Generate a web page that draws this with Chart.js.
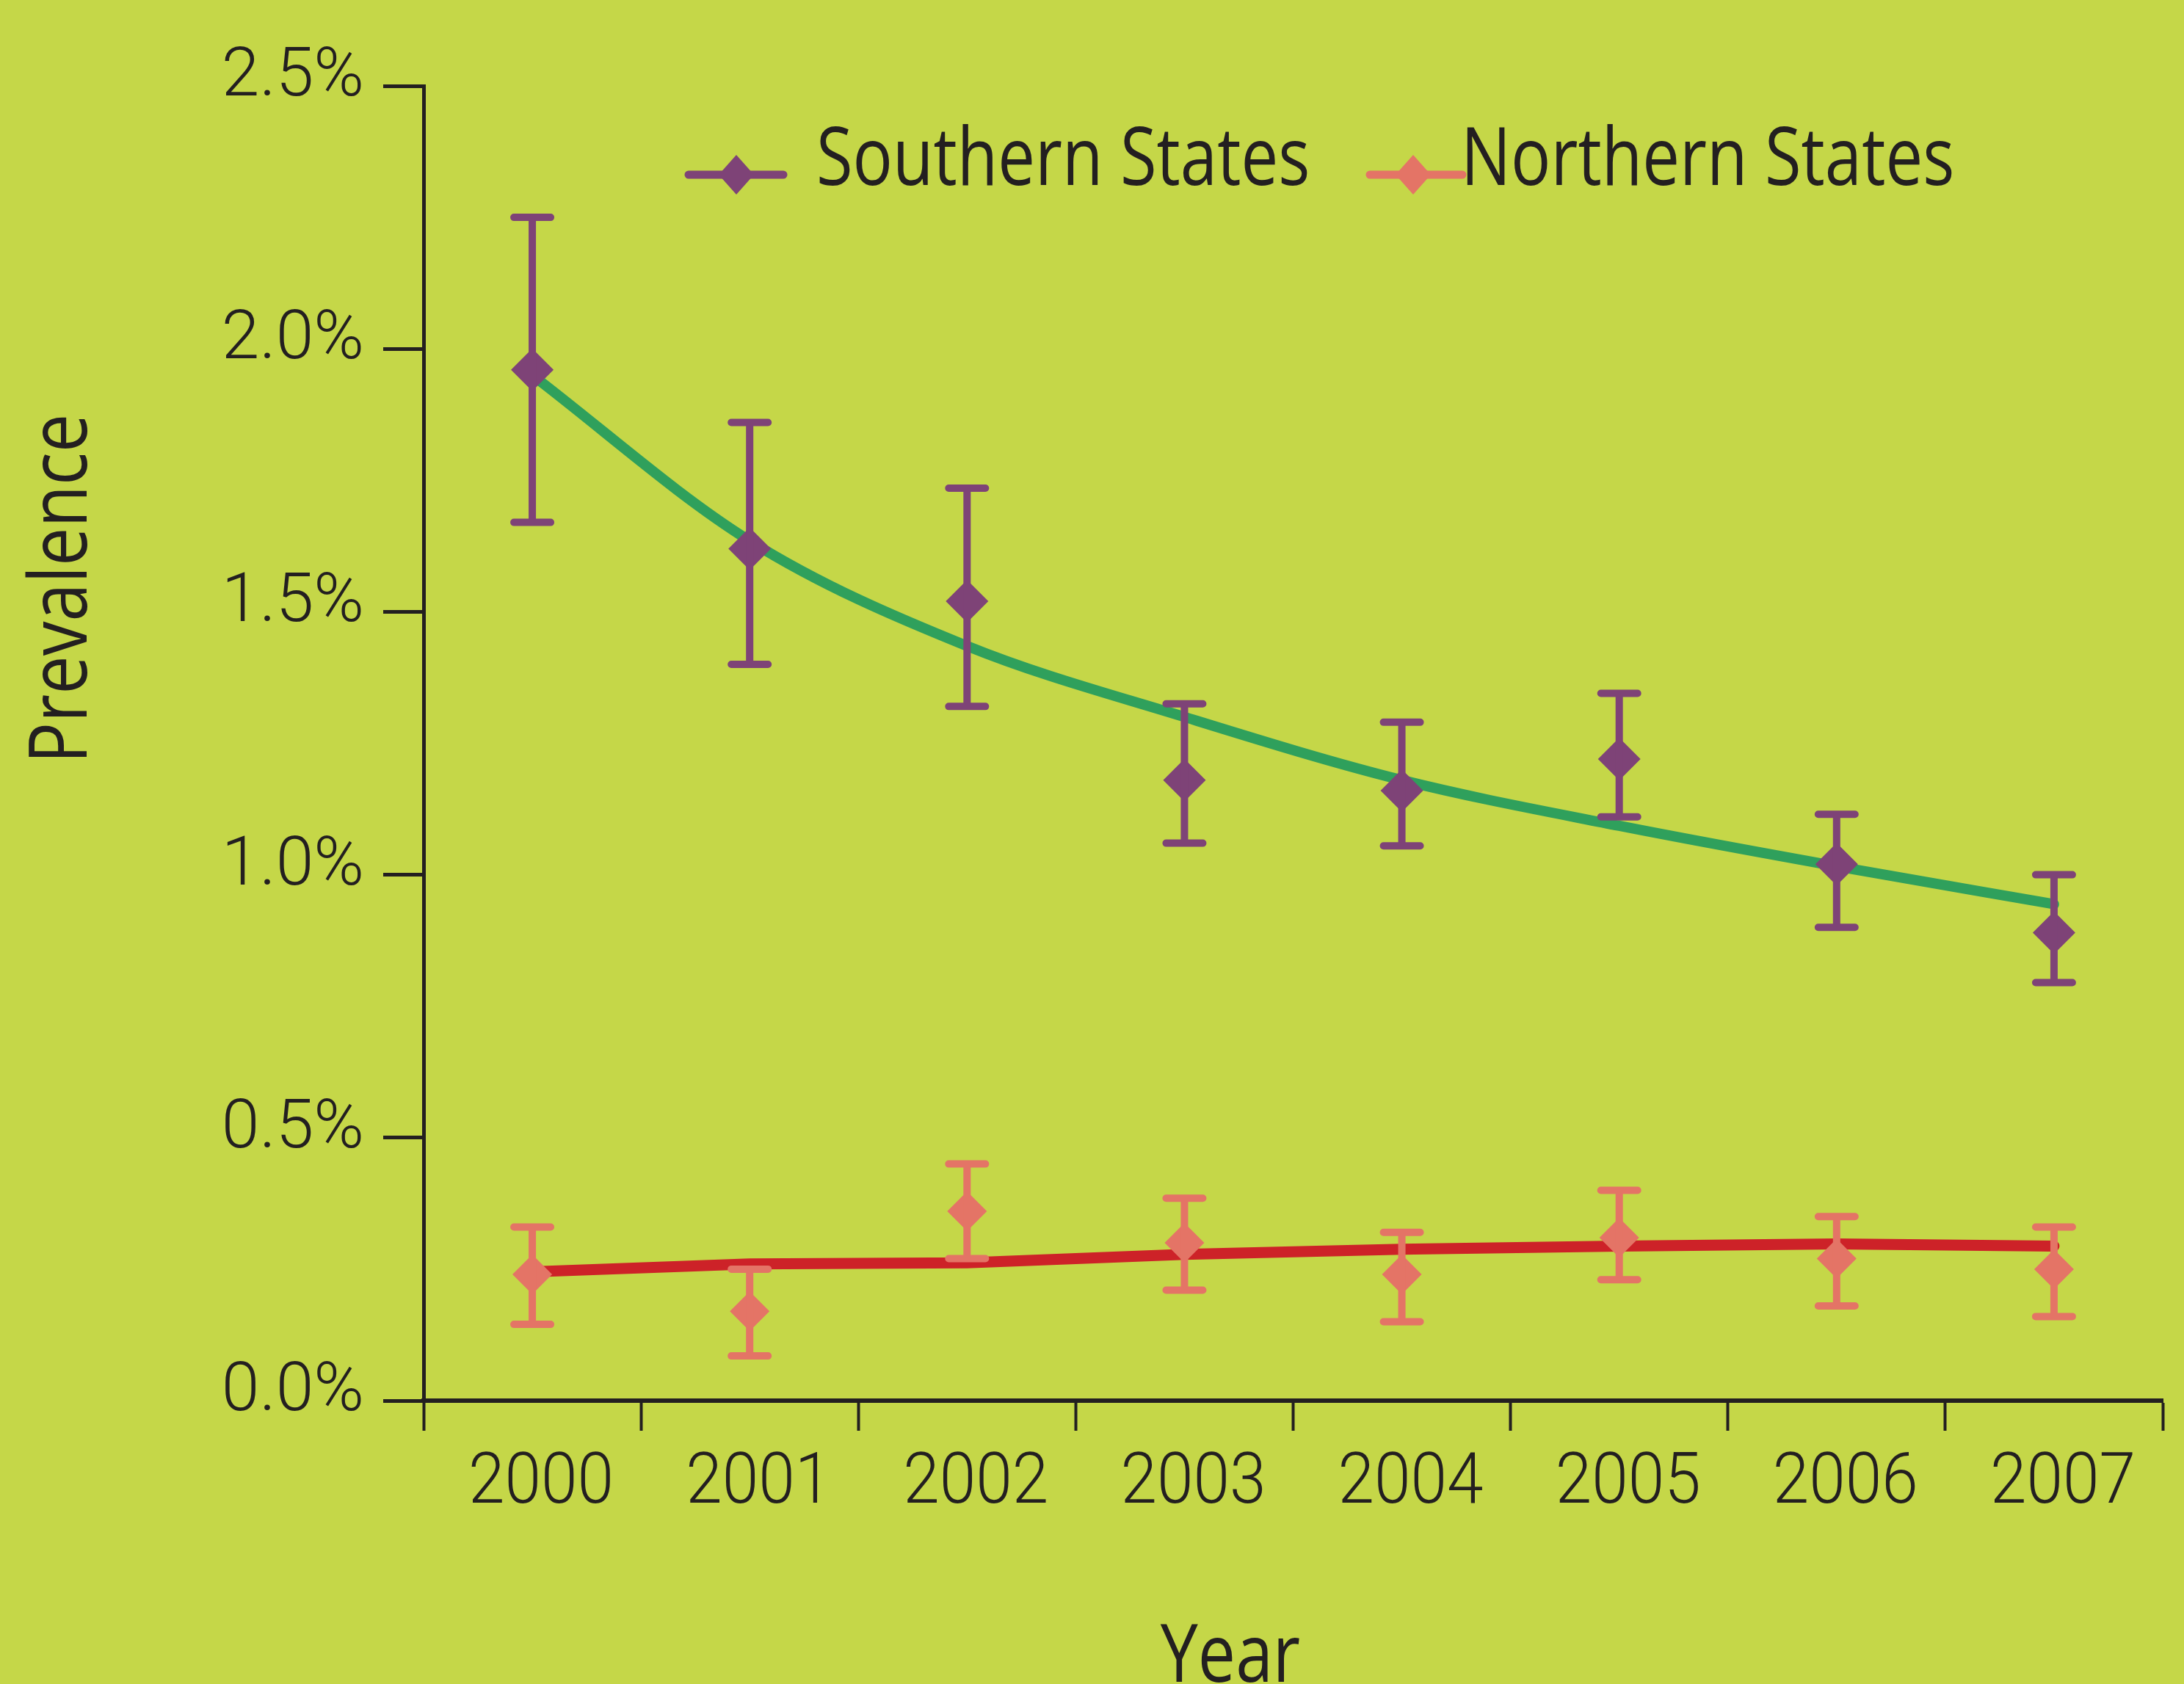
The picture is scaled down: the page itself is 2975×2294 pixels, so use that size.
<!DOCTYPE html>
<html>
<head>
<meta charset="utf-8">
<script src="https://cdn.jsdelivr.net/npm/chart.js@4.4.1/dist/chart.umd.min.js"></script>
<style>
  html, body { margin: 0; padding: 0; background: #c5d748; overflow: hidden; }
  #wrap { width: 2975px; height: 2294px; position: relative; }
</style>
</head>
<body>
<div id="wrap"><canvas id="chart"></canvas></div>
<script>
// data
const years = ['2000', '2001', '2002', '2003', '2004', '2005', '2006', '2007'];
const yTickLabels = ['0.0%', '0.5%', '1.0%', '1.5%', '2.0%', '2.5%'];

const southern      = [1.96, 1.62, 1.52, 1.18, 1.16, 1.22, 1.02, 0.89];
const southernHigh  = [2.25, 1.86, 1.735, 1.325, 1.29, 1.345, 1.115, 1.0];
const southernLow   = [1.67, 1.40, 1.32, 1.06, 1.055, 1.11, 0.90, 0.795];
const southernTrend = [1.95, 1.635, 1.435, 1.30, 1.18, 1.093, 1.016, 0.944];

const northern      = [0.24, 0.17, 0.36, 0.30, 0.24, 0.31, 0.27, 0.25];
const northernHigh  = [0.33, 0.25, 0.45, 0.385, 0.32, 0.40, 0.35, 0.33];
const northernLow   = [0.145, 0.085, 0.27, 0.21, 0.15, 0.23, 0.18, 0.16];
const northernTrend = [0.245, 0.26, 0.262, 0.278, 0.288, 0.294, 0.298, 0.294];

const TICK_FONT = "300 {s}px Roboto, 'Liberation Sans', sans-serif";
const TEXT_FONT = "{s}px 'Open Sans', 'Noto Sans', sans-serif";
const INK = '#231f20';
const PURPLE = '#7e4377';
const SALMON = '#e47466';

// text squeezed sideways, the original uses a condensed face
function squeezed(ctx, text, x, y, font, align, sx, rot) {
  ctx.save();
  ctx.translate(x, y);
  if (rot) ctx.rotate(rot);
  ctx.scale(sx, 1);
  ctx.font = font;
  ctx.textAlign = align;
  ctx.textBaseline = 'alphabetic';
  ctx.fillStyle = INK;
  ctx.fillText(text, 0, 0);
  ctx.restore();
}

// error bars, drawn through the y scale
const errorBars = {
  id: 'errorBars',
  afterDatasetsDraw(chart) {
    const ctx = chart.ctx;
    const y = chart.scales.y;
    chart.data.datasets.forEach((ds, i) => {
      if (!ds.errHigh) return;
      const meta = chart.getDatasetMeta(i);
      ctx.save();
      ctx.strokeStyle = ds.borderColor;
      ctx.lineWidth = 10;
      ctx.lineCap = 'round';
      meta.data.forEach((pt, j) => {
        const top = y.getPixelForValue(ds.errHigh[j]);
        const bot = y.getPixelForValue(ds.errLow[j]);
        ctx.beginPath();
        ctx.moveTo(pt.x, top); ctx.lineTo(pt.x, bot);
        ctx.moveTo(pt.x - 25, top); ctx.lineTo(pt.x + 25, top);
        ctx.moveTo(pt.x - 25, bot); ctx.lineTo(pt.x + 25, bot);
        ctx.stroke();
      });
      ctx.restore();
    });
  }
};

// tick labels, legend and axis titles
const decorations = {
  id: 'decorations',
  afterDraw(chart) {
    const ctx = chart.ctx;
    const xs = chart.scales.x;
    const ys = chart.scales.y;

    xs.ticks.forEach((t, i) => {
      squeezed(ctx, years[i], xs.getPixelForTick(i) + 12, 2047,
        TICK_FONT.replace('{s}', 97), 'center', 0.92);
    });
    ys.ticks.forEach((t, i) => {
      squeezed(ctx, yTickLabels[i], 496, ys.getPixelForTick(i) + 13,
        TICK_FONT.replace('{s}', 93), 'right', 1.0);
    });

    const titleFont = TEXT_FONT.replace('{s}', 110);
    squeezed(ctx, 'Prevalence', 118, 802, titleFont, 'center', 0.85, -Math.PI / 2);
    squeezed(ctx, 'Year', 1676, 2291, titleFont, 'center', 0.83);

    // legend: line with a diamond on it, then the name
    const items = [
      { ds: chart.data.datasets[0], x0: 938, x1: 1067, mx: 1003, tx: 1112 },
      { ds: chart.data.datasets[1], x0: 1866, x1: 1992, mx: 1925, tx: 1990 }
    ];
    items.forEach(it => {
      const c = it.ds.backgroundColor;
      ctx.save();
      ctx.strokeStyle = c;
      ctx.lineWidth = 11;
      ctx.lineCap = 'round';
      ctx.beginPath();
      ctx.moveTo(it.x0, 238); ctx.lineTo(it.x1, 238);
      ctx.stroke();
      ctx.fillStyle = c;
      ctx.beginPath();
      ctx.moveTo(it.mx, 238 - 27); ctx.lineTo(it.mx + 24, 238);
      ctx.lineTo(it.mx, 238 + 27); ctx.lineTo(it.mx - 24, 238);
      ctx.closePath();
      ctx.fill();
      ctx.restore();
      squeezed(ctx, it.ds.label, it.tx, 252, TEXT_FONT.replace('{s}', 109), 'left', 0.83);
    });
  }
};

new Chart(document.getElementById('chart'), {
  type: 'line',
  data: {
    labels: years,
    datasets: [
      {
        label: 'Southern States',
        data: southern,
        errHigh: southernHigh,
        errLow: southernLow,
        showLine: false,
        pointStyle: 'rectRot',
        pointRadius: 29,
        backgroundColor: PURPLE,
        borderColor: PURPLE,
        borderWidth: 0,
        order: 1
      },
      {
        label: 'Northern States',
        data: northern,
        errHigh: northernHigh,
        errLow: northernLow,
        showLine: false,
        pointStyle: 'rectRot',
        pointRadius: 27,
        backgroundColor: SALMON,
        borderColor: SALMON,
        borderWidth: 0,
        order: 2
      },
      {
        label: 'Southern trend',
        data: southernTrend,
        borderColor: '#2fa05c',
        borderWidth: 14,
        cubicInterpolationMode: 'monotone',
        pointRadius: 0,
        borderCapStyle: 'round',
        order: 3
      },
      {
        label: 'Northern trend',
        data: northernTrend,
        borderColor: '#cd2228',
        borderWidth: 15,
        tension: 0,
        pointRadius: 0,
        borderCapStyle: 'round',
        order: 4
      }
    ]
  },
  options: {
    responsive: true,
    maintainAspectRatio: false,
    devicePixelRatio: 1,
    animation: false,
    layout: { padding: { top: 117, right: 0, left: 0, bottom: 0 } },
    plugins: {
      legend: { display: false },
      tooltip: { enabled: false }
    },
    scales: {
      x: {
        offset: true,
        grid: {
          offset: true,
          drawOnChartArea: false,
          drawTicks: true,
          tickLength: 41,
          tickWidth: 4,
          tickColor: INK
        },
        border: { display: true, color: INK, width: 6 },
        ticks: { display: false },
        afterFit(scale) { scale.height = 2294 - 1908; }
      },
      y: {
        min: 0,
        max: 2.5,
        grid: {
          drawOnChartArea: false,
          drawTicks: true,
          tickLength: 55,
          tickWidth: 5,
          tickColor: INK
        },
        border: { display: true, color: INK, width: 5 },
        ticks: { stepSize: 0.5, display: false },
        afterFit(scale) { scale.width = 577; }
      }
    }
  },
  plugins: [errorBars, decorations]
});
</script>
</body>
</html>
